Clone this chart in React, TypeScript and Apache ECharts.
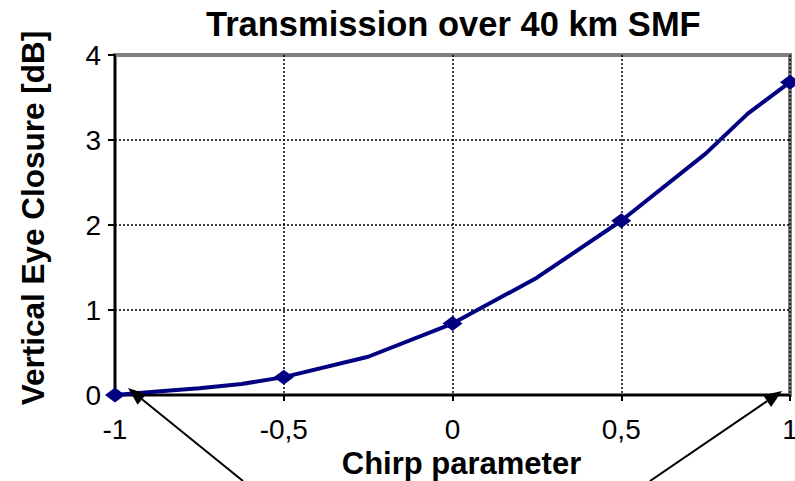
import React, { useEffect, useRef } from "react";
import * as echarts from "echarts";

const chirp = [-1, -0.875, -0.75, -0.625, -0.5, -0.25, 0, 0.25, 0.5, 0.75, 0.875, 1];
const closure = [0, 0.04, 0.08, 0.13, 0.21, 0.45, 0.84, 1.38, 2.05, 2.84, 3.31, 3.68];
const markerChirp = [-1, -0.5, 0, 0.5, 1];
const xTicks = { min: -1, max: 1, interval: 0.5 };
const yTicks = { min: 0, max: 4, interval: 1 };
const titleText = "Transmission over 40 km SMF";
const xName = "Chirp parameter";
const yName = "Vertical Eye Closure [dB]";

const NAVY = "#000080";
const GRAY = "#808080";
const FONT = "Liberation Sans, Arial, sans-serif";

function arrow(x1: number, y1: number, x2: number, y2: number) {
  const dx = x2 - x1;
  const dy = y2 - y1;
  const len = Math.sqrt(dx * dx + dy * dy);
  const ux = dx / len;
  const uy = dy / len;
  const hl = 18;
  const hw = 7;
  const bx = x2 - ux * hl;
  const by = y2 - uy * hl;
  const px = -uy * hw;
  const py = ux * hw;
  return [
    {
      type: "line",
      shape: { x1, y1, x2: bx, y2: by },
      style: { stroke: "#000", lineWidth: 2 },
      z: 100,
    },
    {
      type: "polygon",
      shape: {
        points: [
          [x2, y2],
          [bx + px, by + py],
          [bx - px, by - py],
        ],
      },
      style: { fill: "#000" },
      z: 100,
    },
  ];
}

const frameAxis = {
  type: "value",
  axisTick: { show: false },
  axisLabel: { show: false },
  splitLine: { show: false },
  axisLine: { show: true, onZero: false, lineStyle: { color: GRAY, width: 4 } },
};

export default function App() {
  const ref = useRef<HTMLDivElement>(null);
  useEffect(() => {
    if (!ref.current) return;
    const chart = echarts.init(ref.current, undefined, { renderer: "svg" });
    const data = chirp.map((x, i) => ({
      value: [x, closure[i]],
      symbol: markerChirp.includes(x) ? "diamond" : "none",
    }));
    chart.setOption({
      animation: false,
      backgroundColor: "#fff",
      title: {
        text: titleText,
        left: 206,
        top: 6,
        padding: 0,
        textStyle: { fontFamily: FONT, fontSize: 34.5, fontWeight: "bold", color: "#000" },
      },
      grid: {
        left: 115,
        top: 55,
        right: 5,
        bottom: 86,
        show: true,
        outerBoundsMode: "none",
        containLabel: false,
        borderColor: GRAY,
        borderWidth: 4,
        backgroundColor: "#fff",
      },
      xAxis: [
        {
          type: "value",
          min: xTicks.min,
          max: xTicks.max,
          interval: xTicks.interval,
          name: xName,
          nameLocation: "middle",
          nameGap: 52,
          nameTextStyle: {
            fontFamily: FONT,
            fontSize: 31,
            fontWeight: "bold",
            color: "#000",
            padding: [0, 0, 0, 18],
          },
          axisLine: { show: true, onZero: false, lineStyle: { color: "#000", width: 2 } },
          axisTick: { show: true, length: 6, lineStyle: { color: "#000", width: 2 } },
          axisLabel: {
            fontFamily: FONT,
            fontSize: 28,
            color: "#000",
            margin: 20,
            formatter: (v: number) => String(v).replace(".", ","),
          },
          splitLine: {
            show: true,
            showMinLine: false,
            lineStyle: { color: "#000", type: [2, 2], width: 1.5 },
          },
          z: 3,
        },
        { ...frameAxis, position: "top", min: xTicks.min, max: xTicks.max, z: 2 },
      ],
      yAxis: [
        {
          type: "value",
          min: yTicks.min,
          max: yTicks.max,
          interval: yTicks.interval,
          name: yName,
          nameLocation: "middle",
          nameGap: 66,
          nameTextStyle: {
            fontFamily: FONT,
            fontSize: 31.5,
            fontWeight: "bold",
            color: "#000",
            padding: [0, 0, 0, 14],
          },
          axisLine: { show: true, onZero: false, lineStyle: { color: "#000", width: 2 } },
          axisTick: { show: true, length: 7, lineStyle: { color: "#000", width: 2 } },
          axisLabel: { fontFamily: FONT, fontSize: 28, color: "#000", margin: 14 },
          splitLine: {
            show: true,
            showMinLine: false,
            showMaxLine: false,
            lineStyle: { color: "#000", type: [2, 2], width: 1.5 },
          },
          z: 3,
        },
        { ...frameAxis, position: "right", min: yTicks.min, max: yTicks.max, z: 2 },
      ],
      series: [
        {
          type: "line",
          data,
          clip: false,
          symbolSize: [20, 15],
          itemStyle: { color: NAVY },
          lineStyle: { color: NAVY, width: 4 },
          z: 10,
        },
      ],
      graphic: [...arrow(243, 481, 128, 388), ...arrow(650, 481, 782, 391)],
    });
    return () => chart.dispose();
  }, []);
  return (
    <div
      ref={ref}
      style={{ position: "fixed", left: 0, top: 0, width: 795, height: 481 }}
    />
  );
}
